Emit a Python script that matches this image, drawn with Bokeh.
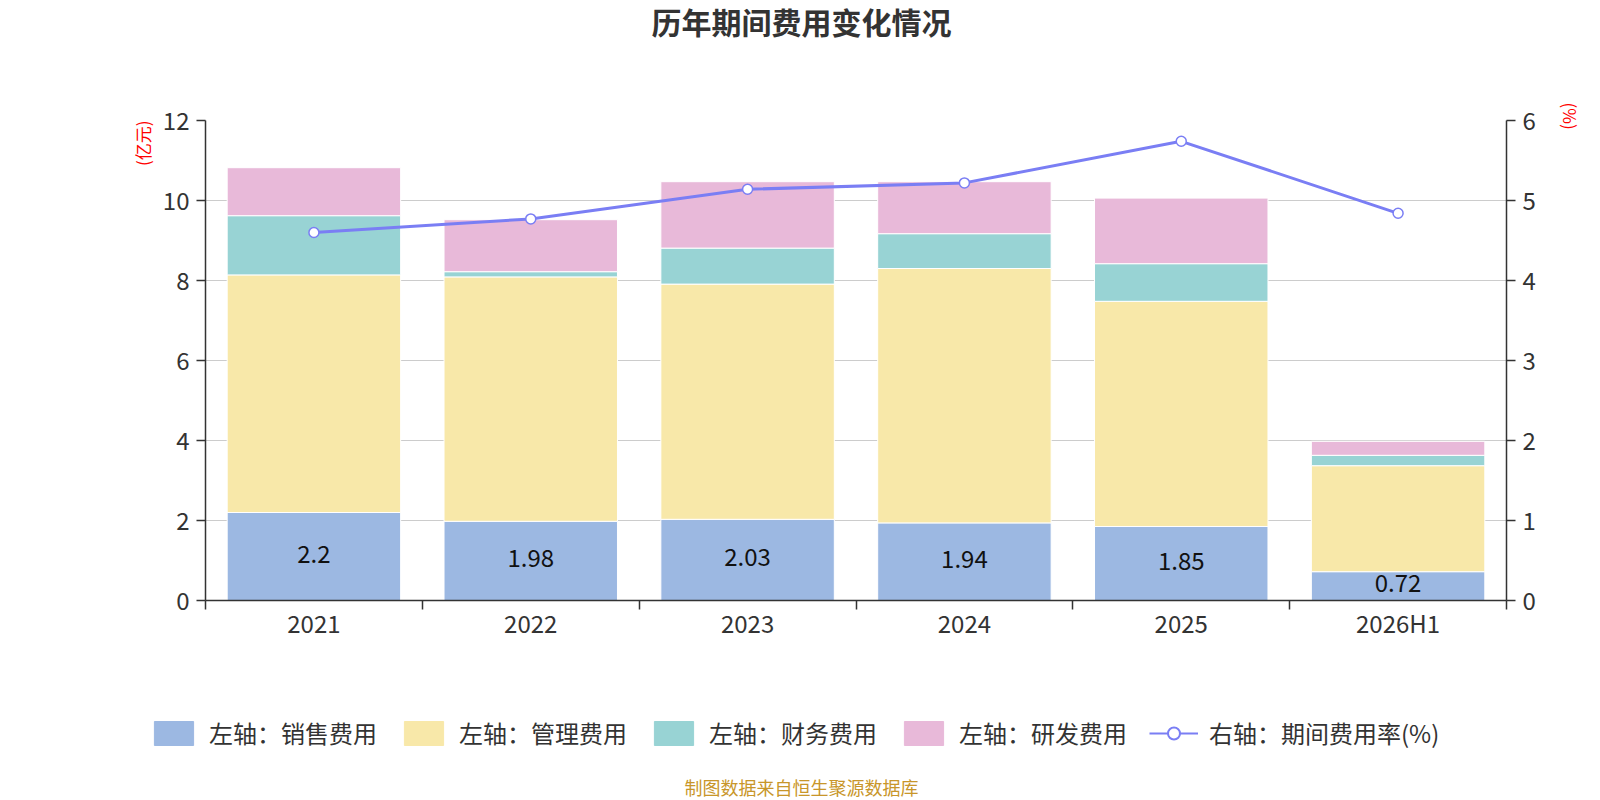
import numpy as np
from bokeh.plotting import figure
from bokeh.layouts import column, row
from bokeh.models import (ColumnDataSource, Range1d, LinearAxis, FixedTicker, Title, Label,
                          Legend, LegendItem)
from bokeh.embed import file_html
from bokeh.resources import INLINE
from bokeh.core.properties import value

categories = ["2021", "2022", "2023", "2024", "2025", "2026H1"]
sales = [2.2, 1.98, 2.03, 1.94, 1.85, 0.72]
admin = [5.94, 6.11, 5.88, 6.36, 5.63, 2.65]
finance = [1.48, 0.13, 0.90, 0.87, 0.94, 0.26]
rnd = [1.20, 1.30, 1.66, 1.30, 1.64, 0.35]
rate = [4.60, 4.77, 5.14, 5.22, 5.74, 4.84]
left_ticks = [0, 2, 4, 6, 8, 10, 12]
right_ticks = [0, 1, 2, 3, 4, 5, 6]
series_names = ["左轴：销售费用", "左轴：管理费用", "左轴：财务费用", "左轴：研发费用"]
line_name = "右轴：期间费用率(%)"
title_text = "历年期间费用变化情况"
left_unit = "(亿元)"
right_unit = "(%)"
footer_text = "制图数据来自恒生聚源数据库"

FONT = "Noto Sans CJK SC"
colors = ["#9cb8e2", "#f8e8a9", "#98d3d4", "#e8b9d9"]
line_color = "#7a7ef4"
W = 1600


def blank(height):
    f = figure(width=W, height=height, x_range=Range1d(0, 1), y_range=Range1d(0, 1),
               output_backend="svg", toolbar_location=None, min_border=0,
               x_axis_type=None, y_axis_type=None)
    f.outline_line_color = None
    f.xgrid.visible = False
    f.ygrid.visible = False
    return f


# ---------- title strip ----------
p_top = blank(60)
p_top.add_layout(Label(x=801, y=40, x_units="screen", y_units="screen", text=title_text,
                       text_align="center", text_baseline="middle", text_font=FONT,
                       text_font_size="30px", text_font_style="bold", text_color="#333333"))

# ---------- main chart ----------
n = len(categories)
xs = np.arange(n) + 0.5
src = ColumnDataSource(dict(
    x=xs, cat=categories, sales=sales, admin=admin, finance=finance, rnd=rnd, rate=rate,
    sales_mid=np.array(sales) / 2.0, sales_lbl=[str(v) for v in sales],
))

p = figure(width=W, height=600, x_range=Range1d(0, n), y_range=Range1d(0, 12),
           output_backend="svg", toolbar_location=None,
           min_border_left=205, min_border_right=93, min_border_top=60, min_border_bottom=60)
p.outline_line_color = None
p.xgrid.grid_line_color = None
p.ygrid.grid_line_color = "#cccccc"
p.ygrid.grid_line_width = 1

xax = p.xaxis[0]
xax.ticker = FixedTicker(ticks=list(xs), minor_ticks=list(range(n + 1)))
xax.major_label_overrides = {float(x): c for x, c in zip(xs, categories)}
xax.major_tick_line_color = None
xax.major_tick_in = 0
xax.major_tick_out = 0
xax.minor_tick_line_color = "#333333"
xax.minor_tick_line_width = 1.5
xax.minor_tick_in = 0
xax.minor_tick_out = 9
xax.axis_line_color = "#333333"
xax.axis_line_width = 1.5
xax.major_label_text_font = FONT
xax.major_label_text_font_size = "24px"
xax.major_label_text_color = "#333333"
xax.major_label_standoff = -5

yax = p.yaxis[0]
yax.ticker = FixedTicker(ticks=left_ticks)
p.extra_y_ranges = {"pct": Range1d(0, 6)}
rax = LinearAxis(y_range_name="pct", ticker=FixedTicker(ticks=right_ticks))
p.add_layout(rax, "right")
for ax in (yax, rax):
    ax.axis_line_color = "#333333"
    ax.axis_line_width = 1.5
    ax.major_tick_line_color = "#333333"
    ax.major_tick_line_width = 1.5
    ax.major_tick_in = 0
    ax.major_tick_out = 9
    ax.minor_tick_line_color = None
    ax.major_label_text_font = FONT
    ax.major_label_text_font_size = "24px"
    ax.major_label_text_color = "#333333"
    ax.major_label_standoff = 7

bars = p.vbar_stack(["sales", "admin", "finance", "rnd"], x="x", width=0.8, source=src,
                    color=colors, line_color="white", line_width=1)

p.text(x="x", y="sales_mid", text="sales_lbl", source=src, text_align="center",
       text_baseline="middle", text_font=value(FONT), text_font_size="24px",
       text_color="#111111", y_offset=-3)

lr = p.line(x="x", y="rate", source=src, y_range_name="pct", line_color=line_color,
            line_width=3)
sr = p.scatter(x="x", y="rate", source=src, y_range_name="pct", marker="circle", size=10,
               fill_color="white", line_color=line_color, line_width=1.5)

p.add_layout(Title(text=left_unit, align="right", standoff=10, text_font=FONT,
                   text_font_size="17px", text_font_style="normal", text_color="red"), "left")
p.add_layout(Title(text=right_unit, align="left", offset=-18, standoff=35, vertical_align="top",
                   text_font=FONT, text_font_size="17px", text_font_style="normal",
                   text_color="red"), "right")

# ---------- legend + source strip ----------
p_leg = blank(140)
# legend swatch renderers, kept outside the visible range of this strip
swatch_src = ColumnDataSource(dict(x=[-10.0], y0=[-10.0], y1=[-9.0], y=[-10.0]))
swatches = [p_leg.vbar(x="x", bottom="y0", top="y1", width=0.1, source=swatch_src, color=c)
            for c in colors]
leg_line = p_leg.line(x="x", y="y", source=swatch_src, line_color=line_color, line_width=2)
leg_dot = p_leg.scatter(x="x", y="y", source=swatch_src, marker="circle", size=20,
                        fill_color="white", line_color=line_color, line_width=2)
items = [LegendItem(label=nm, renderers=[r]) for nm, r in zip(series_names, swatches)]
items.append(LegendItem(label=line_name, renderers=[leg_line, leg_dot]))
legend = Legend(items=items, orientation="horizontal", location=(149, 50))
legend.glyph_width = 49
legend.glyph_height = 30
legend.label_standoff = 11
legend.spacing = 22
legend.padding = 0
legend.margin = 0
legend.border_line_color = None
legend.background_fill_alpha = 0
legend.label_text_font = FONT
legend.label_text_font_size = "24px"
legend.label_text_color = "#333333"
p_leg.add_layout(legend)
p_leg.add_layout(Label(x=801, y=14, x_units="screen", y_units="screen", text=footer_text,
                       text_align="center", text_baseline="middle", text_font=FONT,
                       text_font_size="18px", text_color="#c8962a"))

layout = column(p_top, row(p), p_leg, spacing=0)
open("out.html", "w").write(file_html(layout, INLINE))
